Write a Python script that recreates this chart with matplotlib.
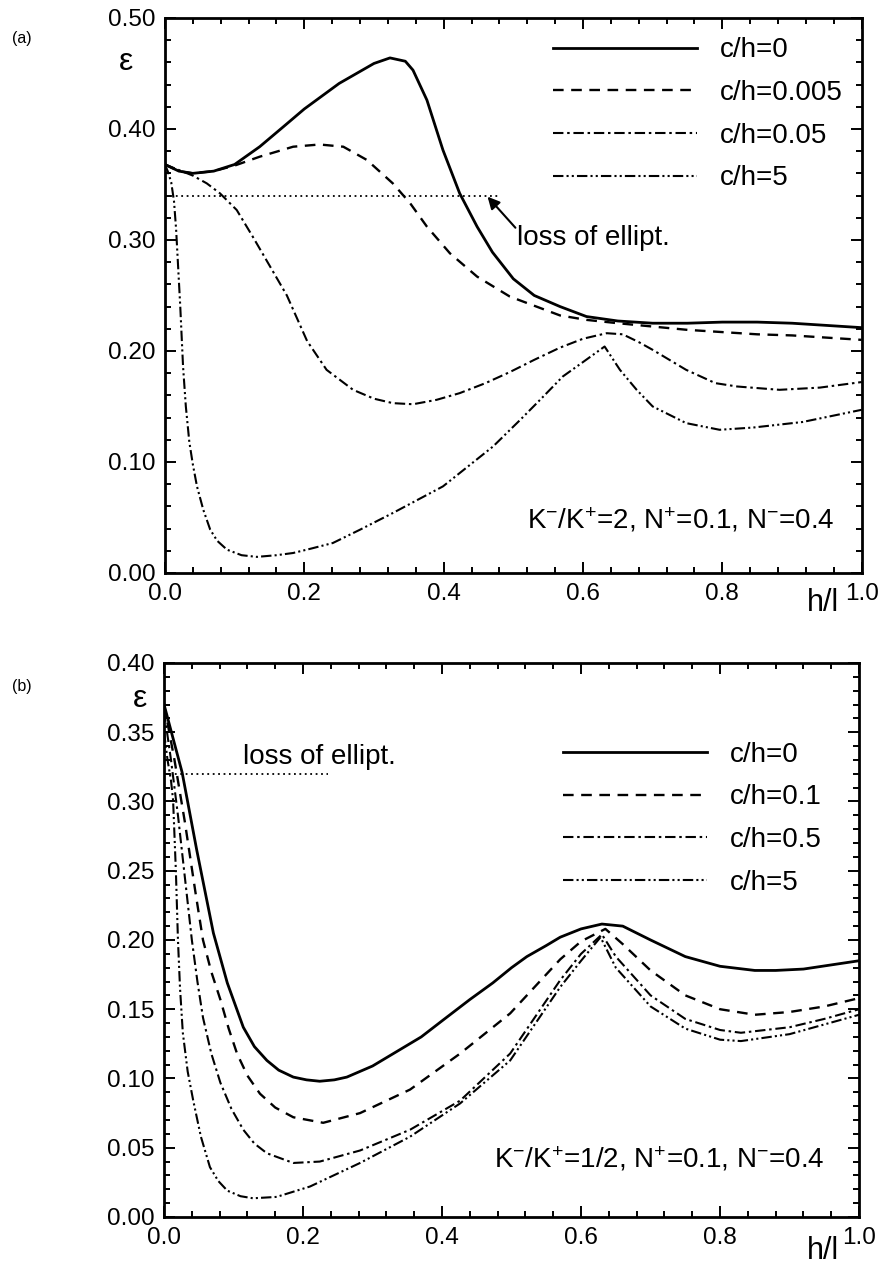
import numpy as np
import matplotlib
matplotlib.use("Agg")
import matplotlib.pyplot as plt
from matplotlib.ticker import MultipleLocator, FormatStrFormatter

plt.rcParams['font.family'] = ['Liberation Sans', 'DejaVu Sans']
plt.rcParams['mathtext.fontset'] = 'custom'
plt.rcParams['mathtext.rm'] = 'Liberation Sans'
plt.rcParams['mathtext.default'] = 'regular'

##############################################################################
# data, panel (a)
##############################################################################

a0_x = [0.0, 0.02, 0.04, 0.07, 0.10, 0.136, 0.17, 0.20, 0.25, 0.30, 0.323, 0.345,
        0.356, 0.376, 0.399, 0.423, 0.448, 0.47, 0.50, 0.53, 0.567, 0.605, 0.65,
        0.70, 0.75, 0.80, 0.85, 0.90, 0.95, 1.0]
a0_y = [0.368, 0.362, 0.360, 0.362, 0.368, 0.384, 0.402, 0.418, 0.441, 0.459, 0.464,
        0.461, 0.453, 0.426, 0.381, 0.342, 0.312, 0.289, 0.265, 0.250, 0.240, 0.231,
        0.227, 0.225, 0.225, 0.226, 0.226, 0.225, 0.223, 0.221]

a1_x = [0.0, 0.02, 0.04, 0.07, 0.10, 0.136, 0.184, 0.222, 0.256, 0.29, 0.327, 0.352,
        0.376, 0.409, 0.448, 0.495, 0.567, 0.605, 0.65, 0.70, 0.75, 0.80, 0.85,
        0.90, 0.95, 1.0]
a1_y = [0.368, 0.362, 0.360, 0.362, 0.367, 0.375, 0.384, 0.386, 0.384, 0.372, 0.351,
        0.333, 0.312, 0.288, 0.267, 0.249, 0.232, 0.228, 0.225, 0.222, 0.219, 0.217,
        0.215, 0.214, 0.212, 0.210]

a2_x = [0.0, 0.02, 0.04, 0.06, 0.079, 0.103, 0.126, 0.151, 0.175, 0.204, 0.232, 0.27,
        0.30, 0.327, 0.356, 0.39, 0.423, 0.46, 0.495, 0.53, 0.567, 0.60, 0.634, 0.657,
        0.68, 0.70, 0.748, 0.79, 0.821, 0.882, 0.94, 1.0]
a2_y = [0.368, 0.363, 0.358, 0.351, 0.342, 0.327, 0.303, 0.276, 0.250, 0.209, 0.183,
        0.165, 0.157, 0.153, 0.152, 0.156, 0.162, 0.171, 0.181, 0.192, 0.203, 0.211,
        0.216, 0.215, 0.208, 0.201, 0.183, 0.171, 0.168, 0.165, 0.167, 0.172]

a3_x = [0.0, 0.004, 0.009, 0.013, 0.016, 0.019, 0.022, 0.026, 0.030, 0.035, 0.040,
        0.046, 0.055, 0.065, 0.075, 0.089, 0.11, 0.132, 0.16, 0.184, 0.21, 0.241,
        0.28, 0.327, 0.36, 0.399, 0.435, 0.471, 0.51, 0.54, 0.571, 0.60, 0.631,
        0.653, 0.677, 0.70, 0.748, 0.796, 0.844, 0.915, 1.0]
a3_y = [0.368, 0.362, 0.352, 0.335, 0.310, 0.275, 0.240, 0.186, 0.150, 0.118, 0.098,
        0.078, 0.057, 0.039, 0.029, 0.021, 0.016, 0.0145, 0.016, 0.018, 0.022, 0.027,
        0.039, 0.054, 0.065, 0.078, 0.096, 0.114, 0.138, 0.157, 0.177, 0.190, 0.204,
        0.183, 0.165, 0.150, 0.135, 0.129, 0.131, 0.136, 0.147]

labels_a = ["c/h=0", "c/h=0.005", "c/h=0.05", "c/h=5"]
loss_a_x = [0.0, 0.48]
loss_a_y = 0.34

##############################################################################
# data, panel (b)
##############################################################################

b0_x = [0.0, 0.026, 0.047, 0.071, 0.091, 0.114, 0.13, 0.148, 0.165, 0.186, 0.205,
        0.224, 0.245, 0.263, 0.30, 0.33, 0.37, 0.401, 0.44, 0.473, 0.50, 0.522, 0.55,
        0.57, 0.60, 0.63, 0.66, 0.70, 0.75, 0.80, 0.85, 0.88, 0.92, 0.96, 1.0]
b0_y = [0.370, 0.321, 0.265, 0.205, 0.169, 0.137, 0.123, 0.113, 0.106, 0.101, 0.099,
        0.098, 0.099, 0.101, 0.109, 0.118, 0.130, 0.142, 0.157, 0.169, 0.180, 0.188,
        0.196, 0.202, 0.208, 0.2115, 0.210, 0.200, 0.188, 0.181, 0.178, 0.178, 0.179,
        0.182, 0.185]

b1_x = [0.0, 0.015, 0.03, 0.045, 0.056, 0.068, 0.081, 0.093, 0.105, 0.12, 0.138, 0.16,
        0.186, 0.229, 0.282, 0.354, 0.426, 0.498, 0.57, 0.60, 0.635, 0.66, 0.70, 0.75,
        0.80, 0.85, 0.90, 0.95, 1.0]
b1_y = [0.370, 0.330, 0.285, 0.235, 0.200, 0.177, 0.157, 0.136, 0.118, 0.102, 0.089,
        0.079, 0.072, 0.068, 0.075, 0.092, 0.118, 0.147, 0.186, 0.199, 0.208, 0.197,
        0.178, 0.160, 0.150, 0.146, 0.148, 0.152, 0.158]

b2_x = [0.0, 0.01, 0.02, 0.03, 0.040, 0.048, 0.056, 0.068, 0.081, 0.097, 0.114, 0.13,
        0.148, 0.186, 0.224, 0.282, 0.354, 0.426, 0.498, 0.57, 0.60, 0.63, 0.65, 0.70,
        0.75, 0.80, 0.83, 0.90, 0.95, 1.0]
b2_y = [0.365, 0.330, 0.290, 0.245, 0.200, 0.170, 0.144, 0.118, 0.097, 0.078, 0.063,
        0.053, 0.046, 0.039, 0.040, 0.048, 0.063, 0.084, 0.118, 0.171, 0.190, 0.204,
        0.188, 0.160, 0.143, 0.135, 0.133, 0.137, 0.143, 0.150]

b3_x = [0.0, 0.005, 0.010, 0.013, 0.017, 0.020, 0.023, 0.027, 0.034, 0.042, 0.053,
        0.066, 0.078, 0.091, 0.11, 0.128, 0.162, 0.21, 0.282, 0.354, 0.426, 0.498,
        0.57, 0.60, 0.628, 0.65, 0.70, 0.75, 0.80, 0.83, 0.90, 0.95, 1.0]
b3_y = [0.350, 0.330, 0.315, 0.301, 0.250, 0.200, 0.165, 0.133, 0.105, 0.084, 0.058,
        0.036, 0.026, 0.019, 0.015, 0.0135, 0.0145, 0.022, 0.039, 0.058, 0.082, 0.113,
        0.166, 0.185, 0.202, 0.180, 0.152, 0.136, 0.128, 0.127, 0.132, 0.139, 0.146]

labels_b = ["c/h=0", "c/h=0.1", "c/h=0.5", "c/h=5"]
loss_b_x = [0.0, 0.236]
loss_b_y = 0.32

xtick_vals = [0.0, 0.2, 0.4, 0.6, 0.8, 1.0]

##############################################################################
# styles
##############################################################################

styles = [
    dict(color='k', lw=2.0, ls='-'),
    dict(color='k', lw=1.7, ls=(0, (4.5, 3.2))),
    dict(color='k', lw=1.5, ls=(0, (5, 1.8, 1.2, 1.8))),
    dict(color='k', lw=1.5, ls=(0, (5, 1.5, 1.0, 1.5, 1.0, 1.5))),
]


def setup_axes(ax, ymax, ymajor, yminor, yfmt):
    ax.set_xlim(0, 1.0)
    ax.set_ylim(0, ymax)
    ax.xaxis.set_major_locator(MultipleLocator(0.2))
    ax.xaxis.set_minor_locator(MultipleLocator(0.04))
    ax.yaxis.set_major_locator(MultipleLocator(ymajor))
    ax.yaxis.set_minor_locator(MultipleLocator(yminor))
    ax.set_xticks(xtick_vals)
    ax.set_xticklabels(["%.1f" % v for v in xtick_vals])
    ax.yaxis.set_major_formatter(FormatStrFormatter(yfmt))
    ax.tick_params(which='both', direction='in', top=True, right=True,
                   labelsize=17.5, width=1.4)
    ax.tick_params(which='major', length=8, pad=7)
    ax.tick_params(which='minor', length=4.5)
    for s in ax.spines.values():
        s.set_linewidth(2.0)


fig = plt.figure(figsize=(8.82, 12.64), dpi=100)

##############################################################################
# panel (a)
##############################################################################

ax = fig.add_axes([0.187, 0.5467, 0.790, 0.4391])
for xs, ys, lab, st in zip([a0_x, a1_x, a2_x, a3_x], [a0_y, a1_y, a2_y, a3_y],
                           labels_a, styles):
    ax.plot(xs, ys, label=lab, **st)
ax.plot(loss_a_x, [loss_a_y, loss_a_y], color='k', lw=1.3, ls=(0, (1, 2)))
setup_axes(ax, 0.5, 0.1, 0.02, '%.2f')
ax.legend(loc='upper left', bbox_to_anchor=(0.557, 0.965), frameon=False,
          fontsize=20, handlelength=5.2, handletextpad=0.8, labelspacing=0.6,
          borderpad=0, borderaxespad=0)
ax.annotate('', xy=(0.463, 0.339), xytext=(0.503, 0.311),
            arrowprops=dict(arrowstyle='-|>', color='k', lw=1.5,
                            mutation_scale=18, shrinkA=0, shrinkB=0))
ax.text(0.505, 0.302, "loss of ellipt.", fontsize=20, va='center', ha='left')
ax.text(0.961, 0.048, "K$^{-}$/K$^{+}$=2, N$^{+}$=0.1, N$^{-}$=0.4",
        fontsize=20, ha='right', va='center')
ax.text(-0.056, 0.921, "ε", fontsize=23, transform=ax.transAxes,
        ha='center', va='center')
ax.text(0.944, -0.054, "h/l", fontsize=22, transform=ax.transAxes,
        ha='center', va='center')
fig.text(12 / 882, 1 - 38 / 1264, "(a)", fontsize=11.5, va='center')

##############################################################################
# panel (b)
##############################################################################

ax = fig.add_axes([0.186, 0.0372, 0.788, 0.4383])
for xs, ys, lab, st in zip([b0_x, b1_x, b2_x, b3_x], [b0_y, b1_y, b2_y, b3_y],
                           labels_b, styles):
    ax.plot(xs, ys, label=lab, **st)
ax.plot(loss_b_x, [loss_b_y, loss_b_y], color='k', lw=1.3, ls=(0, (1, 2)))
setup_axes(ax, 0.4, 0.05, 0.01, '%.2f')
ax.legend(loc='upper left', bbox_to_anchor=(0.574, 0.858), frameon=False,
          fontsize=20, handlelength=5.2, handletextpad=0.8, labelspacing=0.6,
          borderpad=0, borderaxespad=0)
ax.text(0.114, 0.332, "loss of ellipt.", fontsize=20, va='center', ha='left')
ax.text(0.951, 0.042, "K$^{-}$/K$^{+}$=1/2, N$^{+}$=0.1, N$^{-}$=0.4",
        fontsize=20, ha='right', va='center')
ax.text(-0.035, 0.935, "ε", fontsize=23, transform=ax.transAxes,
        ha='center', va='center')
ax.text(0.948, -0.061, "h/l", fontsize=22, transform=ax.transAxes,
        ha='center', va='center')
fig.text(12 / 882, 1 - 686 / 1264, "(b)", fontsize=11.5, va='center')

fig.savefig("out.png", dpi=100)
